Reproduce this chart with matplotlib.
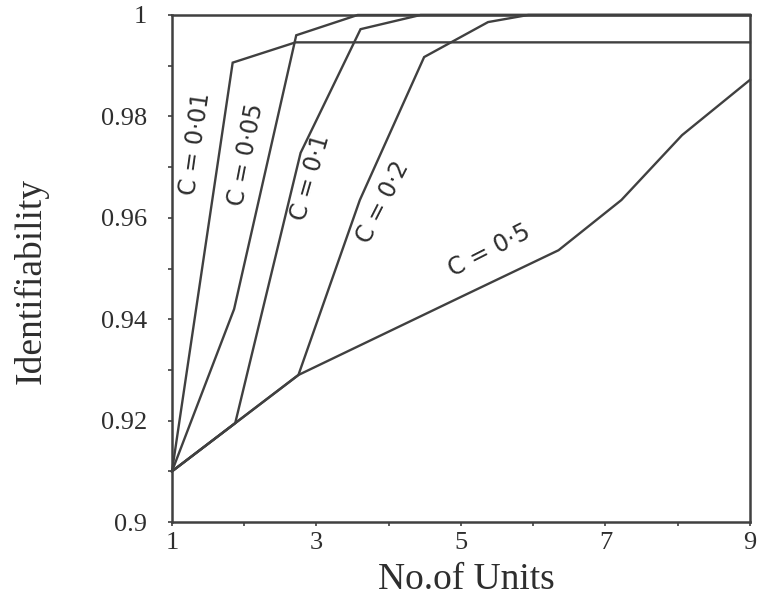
"""
Identifiability vs number of units for several values of C
"""

import matplotlib
matplotlib.use("Agg")
import matplotlib.pyplot as plt
from matplotlib.ticker import FixedLocator

# data
c001_x = [1, 1.84, 2.71, 9]
c001_y = [0.910, 0.9906, 0.9946, 0.9946]

c005_x = [1, 1.86, 2.72, 3.57, 9]
c005_y = [0.910, 0.942, 0.996, 1.0, 1.0]

c01_x = [1, 1.875, 2.78, 3.61, 4.44, 9]
c01_y = [0.910, 0.9195, 0.9728, 0.9972, 1.0, 1.0]

c02_x = [1, 1.875, 2.75, 3.6, 4.49, 5.375, 5.93, 9]
c02_y = [0.910, 0.9195, 0.929, 0.9635, 0.9917, 0.9986, 1.0, 1.0]

c05_x = [1, 1.875, 2.75, 5.0, 6.35, 7.22, 8.06, 9]
c05_y = [0.910, 0.9195, 0.929, 0.9444, 0.9536, 0.9635, 0.9763, 0.9872]

x_ticks = [1, 3, 5, 7, 9]
x_labels = ["1", "3", "5", "7", "9"]
y_ticks = [0.9, 0.92, 0.94, 0.96, 0.98, 1.0]
y_labels = ["0.9", "0.92", "0.94", "0.96", "0.98", "1"]

# curve labels: text, position (data coords), rotation
curve_labels = [
    ("C = 0·01", 1.32, 0.9745, 82),
    ("C = 0·05", 2.02, 0.9725, 79),
    ("C = 0·1", 2.92, 0.9680, 74),
    ("C = 0·2", 3.92, 0.9630, 63),
    ("C = 0·5", 5.40, 0.9535, 27),
]

line_color = "#404040"
text_color = "#2e2e2e"

fig = plt.figure(figsize=(7.61, 5.99), dpi=100)
ax = fig.add_axes([0.226, 0.1285, 0.7595, 0.8465])

for xs, ys in [(c001_x, c001_y), (c005_x, c005_y), (c01_x, c01_y),
               (c02_x, c02_y), (c05_x, c05_y)]:
    ax.plot(xs, ys, color=line_color, lw=1.7, solid_joinstyle="miter",
            clip_on=False)

for text, tx, ty, rot in curve_labels:
    ax.text(tx, ty, text, rotation=rot, rotation_mode="anchor",
            ha="center", va="center", fontsize=17, color=text_color,
            family="DejaVu Sans")

ax.set_xlim(1, 9)
ax.set_ylim(0.9, 1.0)

ax.set_xticks(x_ticks)
ax.set_xticklabels(x_labels)
ax.xaxis.set_minor_locator(FixedLocator([2, 4, 6, 8]))
ax.set_yticks(y_ticks)
ax.set_yticklabels(y_labels)
ax.yaxis.set_minor_locator(FixedLocator([0.91, 0.93, 0.95, 0.97, 0.99]))

for lab in ax.get_xticklabels() + ax.get_yticklabels():
    lab.set_family("Liberation Serif")
    lab.set_fontsize(19)
    lab.set_color(text_color)

ax.tick_params(which="both", direction="out", length=3, width=1.2,
               color=line_color)
ax.tick_params(axis="y", pad=15)
ax.tick_params(axis="x", pad=4)

for sp in ax.spines.values():
    sp.set_linewidth(1.8)
    sp.set_color(line_color)

ax.set_xlabel("No.of Units", family="Liberation Serif", fontsize=27,
              color=text_color, va="center")
ax.xaxis.set_label_coords(0.51, -0.114)
ax.set_ylabel("Identifiability", family="Liberation Serif", fontsize=27,
              color=text_color, va="center")
ax.yaxis.set_label_coords(-0.243, 0.475)

fig.savefig("out.png", dpi=100)
